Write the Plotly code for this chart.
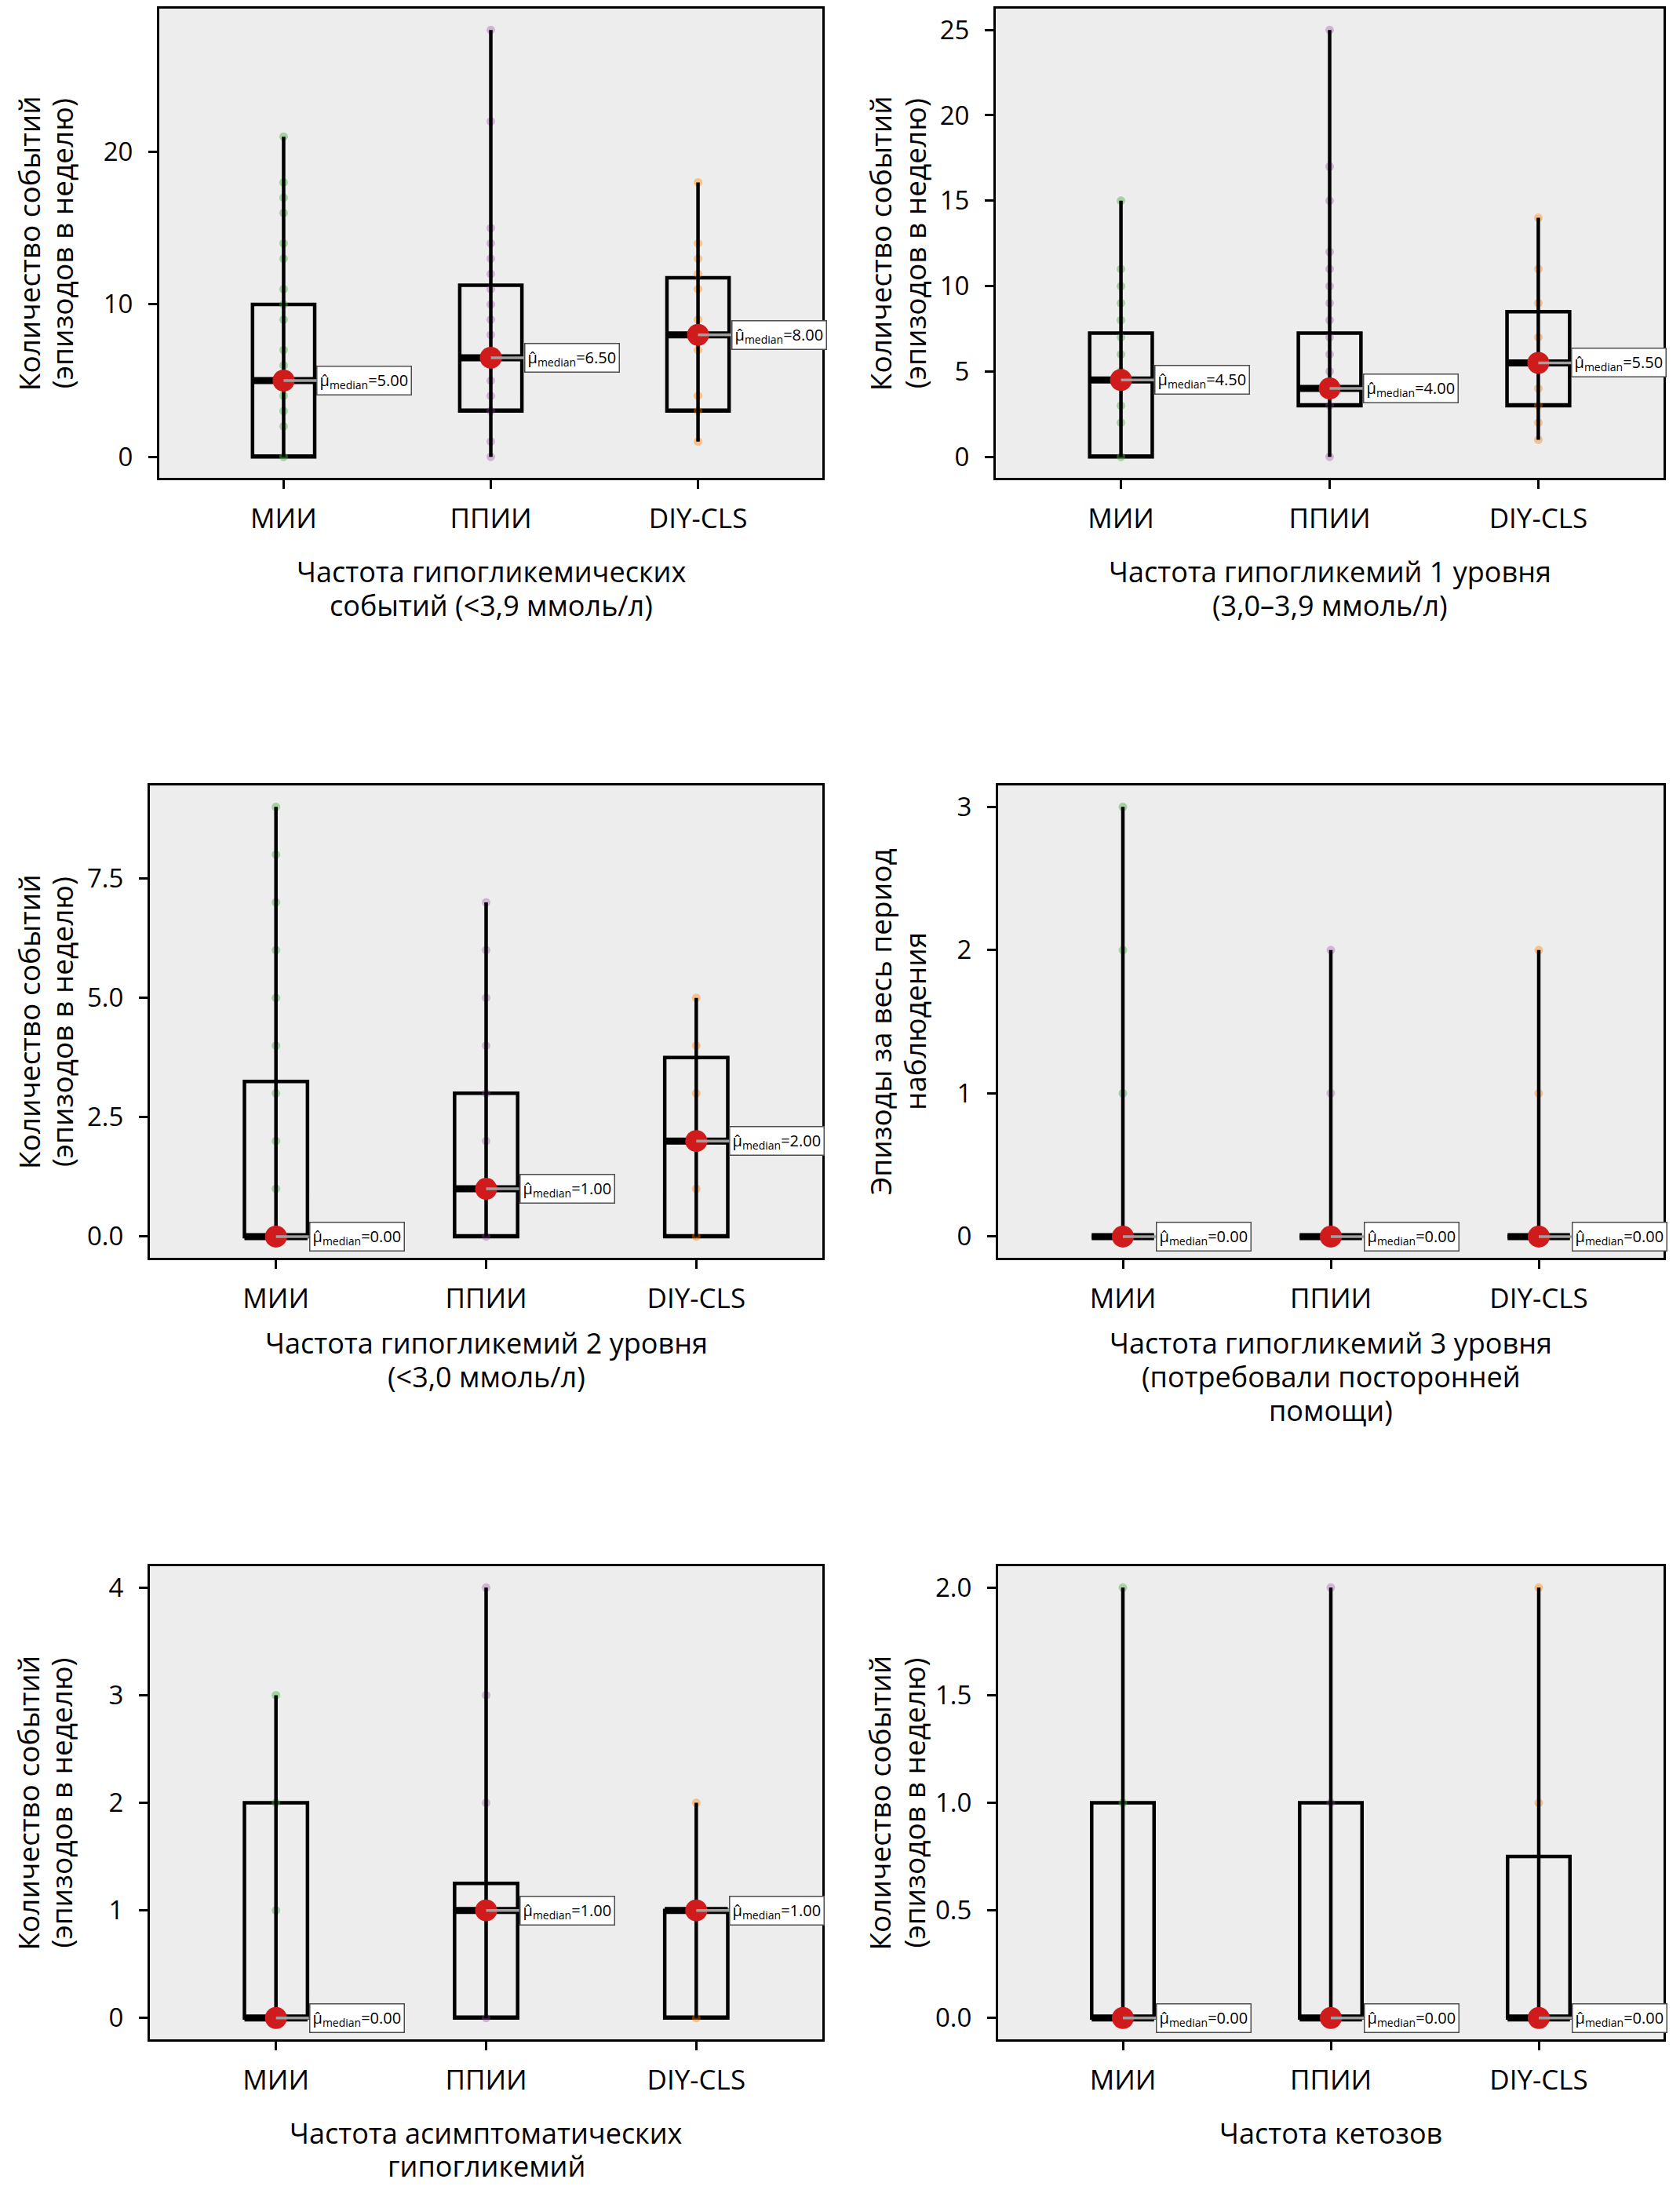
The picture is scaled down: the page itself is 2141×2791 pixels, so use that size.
import plotly.graph_objects as go

# page is 2141x2791; the browser body has an 8 px margin, so the figure is
# sized to fit inside it and screen-pixel positions are converted below
OFF = 8
W, H = 2141 - 2 * OFF, 2791 - 2 * OFF


def fx(s):
    return min(max((s - OFF) / W, 0), 1)


def fy(s):
    return min(max(1 - (s - OFF) / H, 0), 1)


categories = ["МИИ", "ППИИ", "DIY-CLS"]

# ---- data (distinct observed values per group, and box statistics) ----
p1_points = [[0, 2, 3, 4, 5, 6, 7, 9, 10, 11, 13, 14, 16, 17, 18, 21],
             [0, 1, 3, 4, 5, 8, 9, 10, 11, 12, 13, 14, 15, 22, 28],
             [1, 3, 4, 7, 9, 11, 12, 13, 14, 18]]
p1_min = [0, 0, 1]
p1_q1 = [0, 3, 3]
p1_med = [5, 6.5, 8]
p1_q3 = [10, 11.25, 11.75]
p1_max = [21, 28, 18]

p2_points = [[0, 2, 3, 5, 6, 7, 8, 9, 10, 11, 15],
             [0, 3, 5, 6, 7, 8, 9, 10, 11, 12, 15, 17, 25],
             [1, 2, 3, 4, 7, 9, 11, 14]]
p2_min = [0, 0, 1]
p2_q1 = [0, 3, 3]
p2_med = [4.5, 4, 5.5]
p2_q3 = [7.25, 7.25, 8.5]
p2_max = [15, 25, 14]

p3_points = [[0, 1, 2, 3, 4, 5, 6, 7, 8, 9],
             [0, 1, 2, 3, 4, 5, 6, 7],
             [0, 1, 2, 3, 4, 5]]
p3_min = [0, 0, 0]
p3_q1 = [0, 0, 0]
p3_med = [0, 1, 2]
p3_q3 = [3.25, 3, 3.75]
p3_max = [9, 7, 5]

p4_points = [[0, 1, 2, 3], [0, 1, 2], [0, 1, 2]]
p4_min = [0, 0, 0]
p4_q1 = [0, 0, 0]
p4_med = [0, 0, 0]
p4_q3 = [0, 0, 0]
p4_max = [3, 2, 2]

p5_points = [[0, 1, 2, 3], [0, 1, 2, 3, 4], [0, 1, 2]]
p5_min = [0, 0, 0]
p5_q1 = [0, 0, 0]
p5_med = [0, 1, 1]
p5_q3 = [2, 1.25, 1]
p5_max = [3, 4, 2]

p6_points = [[0, 1, 2], [0, 1, 2], [0, 1, 2]]
p6_min = [0, 0, 0]
p6_q1 = [0, 0, 0]
p6_med = [0, 0, 0]
p6_q3 = [1, 1, 0.75]
p6_max = [2, 2, 2]

y_ticks = [[0, 10, 20], [0, 5, 10, 15, 20, 25], [0, 2.5, 5, 7.5],
           [0, 1, 2, 3], [0, 1, 2, 3, 4], [0, 0.5, 1, 1.5, 2]]
y_tick_text = [["0", "10", "20"], ["0", "5", "10", "15", "20", "25"],
               ["0.0", "2.5", "5.0", "7.5"], ["0", "1", "2", "3"],
               ["0", "1", "2", "3", "4"], ["0.0", "0.5", "1.0", "1.5", "2.0"]]

x_titles = [["Частота гипогликемических", "событий (<3,9 ммоль/л)"],
            ["Частота гипогликемий 1 уровня", "(3,0–3,9 ммоль/л)"],
            ["Частота гипогликемий 2 уровня", "(<3,0 ммоль/л)"],
            ["Частота гипогликемий 3 уровня", "(потребовали посторонней", "помощи)"],
            ["Частота асимптоматических", "гипогликемий"],
            ["Частота кетозов"]]
y_titles = [["Количество событий", "(эпизодов в неделю)"],
            ["Количество событий", "(эпизодов в неделю)"],
            ["Количество событий", "(эпизодов в неделю)"],
            ["Эпизоды за весь период", "наблюдения"],
            ["Количество событий", "(эпизодов в неделю)"],
            ["Количество событий", "(эпизодов в неделю)"]]

panels = [
    (p1_points, p1_min, p1_q1, p1_med, p1_q3, p1_max),
    (p2_points, p2_min, p2_q1, p2_med, p2_q3, p2_max),
    (p3_points, p3_min, p3_q1, p3_med, p3_q3, p3_max),
    (p4_points, p4_min, p4_q1, p4_med, p4_q3, p4_max),
    (p5_points, p5_min, p5_q1, p5_med, p5_q3, p5_max),
    (p6_points, p6_min, p6_q1, p6_med, p6_q3, p6_max),
]

point_colors = ["rgba(77,175,74,0.45)", "rgba(152,78,163,0.35)", "rgba(255,127,0,0.4)"]

# ---- layout geometry (screen pixels) ----
boxes_px = [  # x0, x1, y0(top), y1(bottom)
    (203, 1048, 8, 607),
    (1269, 2120, 8, 607),
    (191, 1048, 999, 1602),
    (1272, 2120, 999, 1602),
    (191, 1048, 1995, 2599),
    (1272, 2120, 1995, 2599),
]
x_title_rows = [[726, 769], [726, 769], [1710, 1753, 1796], [1710, 1753, 1796],
                [2718, 2760], [2718, 2760]]
y_title_cols = [[36, 78], [1121, 1165], [36, 78], [1121, 1165], [36, 78], [1121, 1165]]

FONT = "Open Sans, Noto Sans, sans-serif"

fig = go.Figure()
annotations = []
layout = dict(width=W, height=H, autosize=False,
              margin=dict(l=0, r=0, t=0, b=0),
              paper_bgcolor="white", plot_bgcolor="#EDEDED",
              showlegend=False)

for i, (pts, mn, q1, med, q3, mx) in enumerate(panels):
    n = i + 1
    xa = "x" if n == 1 else f"x{n}"
    ya = "y" if n == 1 else f"y{n}"
    x0, x1, yt, yb = boxes_px[i]
    dmax = max(mx)
    pad = dmax * 0.05

    layout["xaxis" if n == 1 else f"xaxis{n}"] = dict(
        domain=[fx(x0), fx(x1)], anchor=ya, type="category",
        categoryorder="array", categoryarray=categories,
        range=[-0.6, 2.6], showgrid=False, zeroline=False,
        showline=True, mirror=True, linecolor="black", linewidth=3,
        ticks="outside", ticklen=11, tickwidth=2.5, tickcolor="black",
        ticklabelstandoff=8,
        tickfont=dict(family=FONT, size=35, color="black"))
    layout["yaxis" if n == 1 else f"yaxis{n}"] = dict(
        domain=[fy(yb), fy(yt)], anchor=xa,
        range=[-pad, dmax + pad], showgrid=False, zeroline=False,
        showline=True, mirror=True, linecolor="black", linewidth=3,
        ticks="outside", ticklen=11, tickwidth=2.5, tickcolor="black",
        ticklabelstandoff=13,
        tickvals=y_ticks[i], ticktext=y_tick_text[i],
        tickfont=dict(family=FONT, size=33, color="black"))

    # points
    for g, cat in enumerate(categories):
        fig.add_trace(go.Scatter(
            x=[cat] * len(pts[g]), y=pts[g], mode="markers", xaxis=xa, yaxis=ya,
            marker=dict(size=11, color=point_colors[g], line=dict(width=0)),
            hoverinfo="skip"))

    # box (Q1–Q3)
    fig.add_trace(go.Box(
        x=categories, q1=q1, median=q1, q3=q3, lowerfence=q1, upperfence=q3,
        xaxis=xa, yaxis=ya, width=0.3, fillcolor="rgba(0,0,0,0)",
        line=dict(color="black", width=4.5), boxpoints=False, hoverinfo="skip"))

    # whisker line min..max through the box
    wx, wy = [], []
    for g, cat in enumerate(categories):
        wx += [cat, cat, None]
        wy += [mn[g], mx[g], None]
    fig.add_trace(go.Scatter(x=wx, y=wy, mode="lines", xaxis=xa, yaxis=ya,
                             line=dict(color="black", width=4.5), hoverinfo="skip"))

    # thick median bar
    fig.add_trace(go.Box(
        x=categories, q1=med, median=med, q3=med, lowerfence=med, upperfence=med,
        xaxis=xa, yaxis=ya, width=0.3, fillcolor="black",
        line=dict(color="black", width=9), boxpoints=False, hoverinfo="skip"))

    # red median dot
    fig.add_trace(go.Scatter(
        x=categories, y=med, mode="markers", xaxis=xa, yaxis=ya,
        marker=dict(size=28, color="#CF1B1B", line=dict(width=0)), hoverinfo="skip"))

    # median labels
    for g, cat in enumerate(categories):
        annotations.append(dict(
            xref=xa, yref=ya, x=cat, y=med[g],
            text=f"μ̂<sub>median</sub>={med[g]:.2f}",
            showarrow=True, arrowhead=0, arrowwidth=3.5, arrowcolor="#A0A0A0",
            ax=42, ay=0, xanchor="left", yanchor="middle",
            standoff=0, startstandoff=0,
            bgcolor="white", bordercolor="#4D4D4D", borderwidth=1.5, borderpad=3,
            font=dict(family=FONT, size=20, color="black")))

    # x title lines
    xc = fx((x0 + x1) / 2)
    for line, ypx in zip(x_titles[i], x_title_rows[i]):
        annotations.append(dict(
            xref="paper", yref="paper", x=xc, y=fy(ypx), text=line,
            showarrow=False, xanchor="center", yanchor="middle",
            font=dict(family=FONT, size=36, color="black")))

    # y title lines
    yc = fy((yt + yb) / 2)
    for line, xpx in zip(y_titles[i], y_title_cols[i]):
        annotations.append(dict(
            xref="paper", yref="paper", x=fx(xpx), y=yc, text=line,
            showarrow=False, textangle=-90, xanchor="center", yanchor="middle",
            font=dict(family=FONT, size=37, color="black")))

layout["annotations"] = annotations
fig.update_layout(**layout)
fig.write_html("out.html")
